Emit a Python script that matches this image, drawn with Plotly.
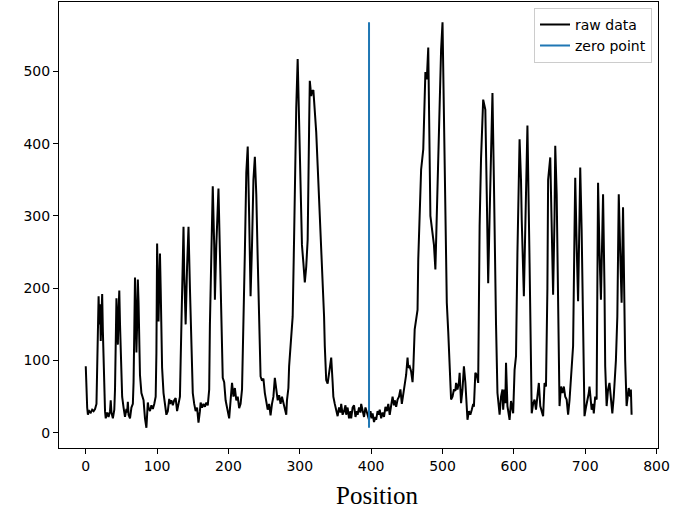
import plotly.graph_objects as go

position = [
    0, 1, 2, 3, 5, 7, 9, 11, 13, 15, 16, 17, 18, 19, 20, 21, 22, 23, 24, 25, 26, 27, 28, 30, 32, 34, 35, 36, 38, 40,
    41, 42, 43, 44, 45, 46, 47, 48, 49, 50, 51, 53, 55, 57, 58, 59, 60, 62, 64, 66, 67, 68, 69, 70, 71, 72, 73, 74, 75, 76,
    78, 79, 81, 83, 85, 86, 87, 88, 90, 92, 94, 96, 98, 99, 100, 101, 102, 103, 104, 105, 106, 107, 109, 111, 113, 115, 117, 118, 120, 122,
    124, 126, 128, 130, 132, 133, 135, 137, 138, 140, 142, 144, 146, 148, 150, 152, 154, 156, 158, 160, 161, 163, 165, 167, 169, 171, 173, 174, 176, 178,
    180, 181, 183, 186, 188, 190, 192, 194, 196, 198, 201, 203, 205, 207, 209, 211, 213, 215, 217, 219, 220, 223, 225, 227, 229, 231, 233, 235, 237, 239,
    241, 243, 245, 247, 249, 251, 253, 255, 257, 259, 261, 263, 265, 267, 269, 271, 273, 275, 277, 279, 281, 282, 284, 285, 288, 290, 292, 293, 295, 297,
    299, 301, 303, 305, 307, 309, 311, 313, 314, 316, 317, 319, 321, 323, 325, 327, 330, 332, 334, 335, 337, 339, 340, 342, 344, 346, 347, 349, 351, 353,
    355, 357, 358, 360, 362, 364, 365, 367, 369, 371, 372, 374, 376, 378, 380, 381, 383, 385, 386, 388, 390, 392, 393, 395, 397, 399, 401, 402, 404, 406,
    407, 409, 411, 412, 414, 416, 418, 420, 422, 424, 426, 428, 430, 432, 433, 435, 437, 439, 441, 443, 445, 447, 449, 451, 452, 454, 456, 458, 459, 461,
    463, 465, 466, 468, 470, 473, 476, 478, 480, 483, 486, 488, 490, 492, 494, 496, 498, 500, 502, 503, 505, 506, 508, 510, 512, 514, 516, 518, 519, 521,
    523, 524, 526, 528, 530, 532, 533, 535, 537, 539, 541, 543, 544, 546, 548, 550, 552, 554, 557, 560, 562, 564, 566, 568, 570, 572, 573, 575, 577, 580,
    582, 584, 585, 587, 588, 589, 591, 593, 594, 596, 599, 601, 603, 605, 608, 610, 611, 614, 616, 619, 622, 624, 625, 627, 629, 631, 633, 635, 637, 639,
    641, 643, 645, 647, 648, 651, 653, 655, 657, 658, 660, 662, 664, 666, 668, 670, 672, 674, 676, 678, 680, 683, 685, 686, 688, 690, 692, 693, 695, 697,
    699, 701, 703, 705, 706, 709, 711, 712, 714, 716, 717, 718, 720, 722, 724, 725, 727, 728, 730, 732, 734, 736, 738, 740, 741, 743, 745, 747, 749, 751,
    753, 755, 756, 758, 760, 761, 763, 764, 765,
]

raw_data = [
    92, 55, 35, 25, 30, 28, 32, 30, 33, 40, 80, 140, 189, 150, 178, 127, 165, 192, 140, 90, 50, 30, 20, 28, 22, 30, 45, 28, 20, 32,
    60, 120, 186, 150, 122, 170, 197, 150, 100, 70, 50, 35, 22, 33, 28, 43, 25, 20, 35, 40, 70, 140, 215, 170, 111, 150, 212, 180, 120, 80,
    55, 50, 45, 20, 7, 25, 42, 35, 30, 38, 33, 40, 50, 110, 262, 210, 154, 200, 248, 200, 140, 90, 55, 40, 25, 30, 47, 40, 45, 38,
    45, 48, 30, 40, 50, 100, 200, 285, 220, 150, 230, 285, 200, 110, 55, 40, 30, 35, 14, 30, 42, 35, 40, 36, 42, 38, 60, 150, 260, 341,
    260, 184, 260, 338, 250, 140, 76, 70, 45, 35, 20, 45, 69, 50, 62, 45, 50, 34, 40, 60, 100, 250, 360, 396, 300, 189, 260, 350, 382, 330,
    240, 150, 78, 72, 75, 55, 40, 32, 40, 24, 40, 50, 76, 55, 45, 52, 40, 50, 42, 35, 25, 45, 62, 92, 130, 161, 270, 346, 450, 517,
    420, 309, 260, 235, 208, 230, 267, 420, 487, 466, 472, 474, 450, 416, 370, 323, 267, 220, 161, 120, 73, 68, 75, 90, 104, 70, 50, 40, 32, 23,
    35, 28, 40, 25, 30, 38, 25, 35, 20, 30, 20, 35, 38, 22, 30, 25, 35, 28, 40, 30, 22, 35, 30, 25, 18, 30, 20, 27, 15, 22,
    18, 30, 25, 32, 20, 28, 22, 36, 30, 40, 25, 40, 50, 38, 45, 36, 46, 50, 60, 40, 55, 64, 80, 104, 90, 92, 85, 70, 87, 143,
    160, 170, 240, 300, 364, 392, 499, 489, 533, 300, 272, 260, 226, 309, 380, 448, 530, 568, 450, 401, 280, 180, 140, 101, 46, 50, 60, 58, 69, 60,
    70, 83, 41, 60, 92, 70, 55, 18, 30, 25, 32, 40, 36, 83, 80, 69, 286, 380, 461, 447, 330, 207, 300, 401, 470, 350, 263, 150, 55, 25,
    50, 60, 32, 60, 41, 97, 37, 23, 18, 44, 27, 87, 106, 250, 406, 350, 295, 189, 300, 425, 235, 100, 27, 40, 46, 32, 50, 69, 37, 30,
    23, 69, 64, 200, 350, 381, 280, 191, 300, 397, 330, 212, 37, 64, 55, 64, 50, 46, 25, 45, 71, 120, 280, 353, 260, 182, 300, 367, 280, 166,
    23, 35, 44, 55, 64, 32, 40, 27, 50, 46, 200, 346, 250, 184, 280, 330, 200, 92, 37, 60, 69, 46, 27, 50, 69, 100, 161, 330, 250, 180,
    312, 161, 100, 37, 50, 62, 50, 60, 25,
]

zero_point = 397

x_ticks = [0, 100, 200, 300, 400, 500, 600, 700, 800]
y_ticks = [0, 100, 200, 300, 400, 500]

fig = go.Figure()
fig.add_trace(go.Scatter(
    x=position, y=raw_data, mode="lines", name="raw data",
    line=dict(color="black", width=2),
))
fig.add_trace(go.Scatter(
    x=[zero_point, zero_point], y=[min(raw_data), max(raw_data)], mode="lines",
    name="zero point", line=dict(color="#1f77b4", width=2),
))

axis_common = dict(
    showgrid=False, zeroline=False, showline=True, linecolor="black", linewidth=1,
    mirror=True, ticks="outside", ticklen=5, tickcolor="black", tickwidth=1,
    tickfont=dict(family="DejaVu Sans", size=14, color="black"),
)

fig.update_layout(
    width=687, height=514,
    margin=dict(l=59, r=29, t=2, b=66),
    plot_bgcolor="white", paper_bgcolor="white",
    xaxis=dict(range=[-37.5, 802], tickvals=x_ticks, **axis_common),
    yaxis=dict(range=[-21, 596], tickvals=y_ticks, **axis_common),
    showlegend=True,
    legend=dict(
        x=0.99, y=0.987, xanchor="right", yanchor="top",
        bgcolor="rgba(255,255,255,0.8)", bordercolor="#cccccc", borderwidth=1,
        font=dict(family="DejaVu Sans", size=14, color="black"),
        tracegroupgap=0,
    ),
    annotations=[dict(
        text="Position", xref="paper", yref="paper",
        x=(377 - 59) / 599, y=-(495 - 448) / 446, xanchor="center", yanchor="middle",
        showarrow=False, font=dict(family="Liberation Serif", size=25, color="black"),
    )],
)

fig.write_html("out.html")
